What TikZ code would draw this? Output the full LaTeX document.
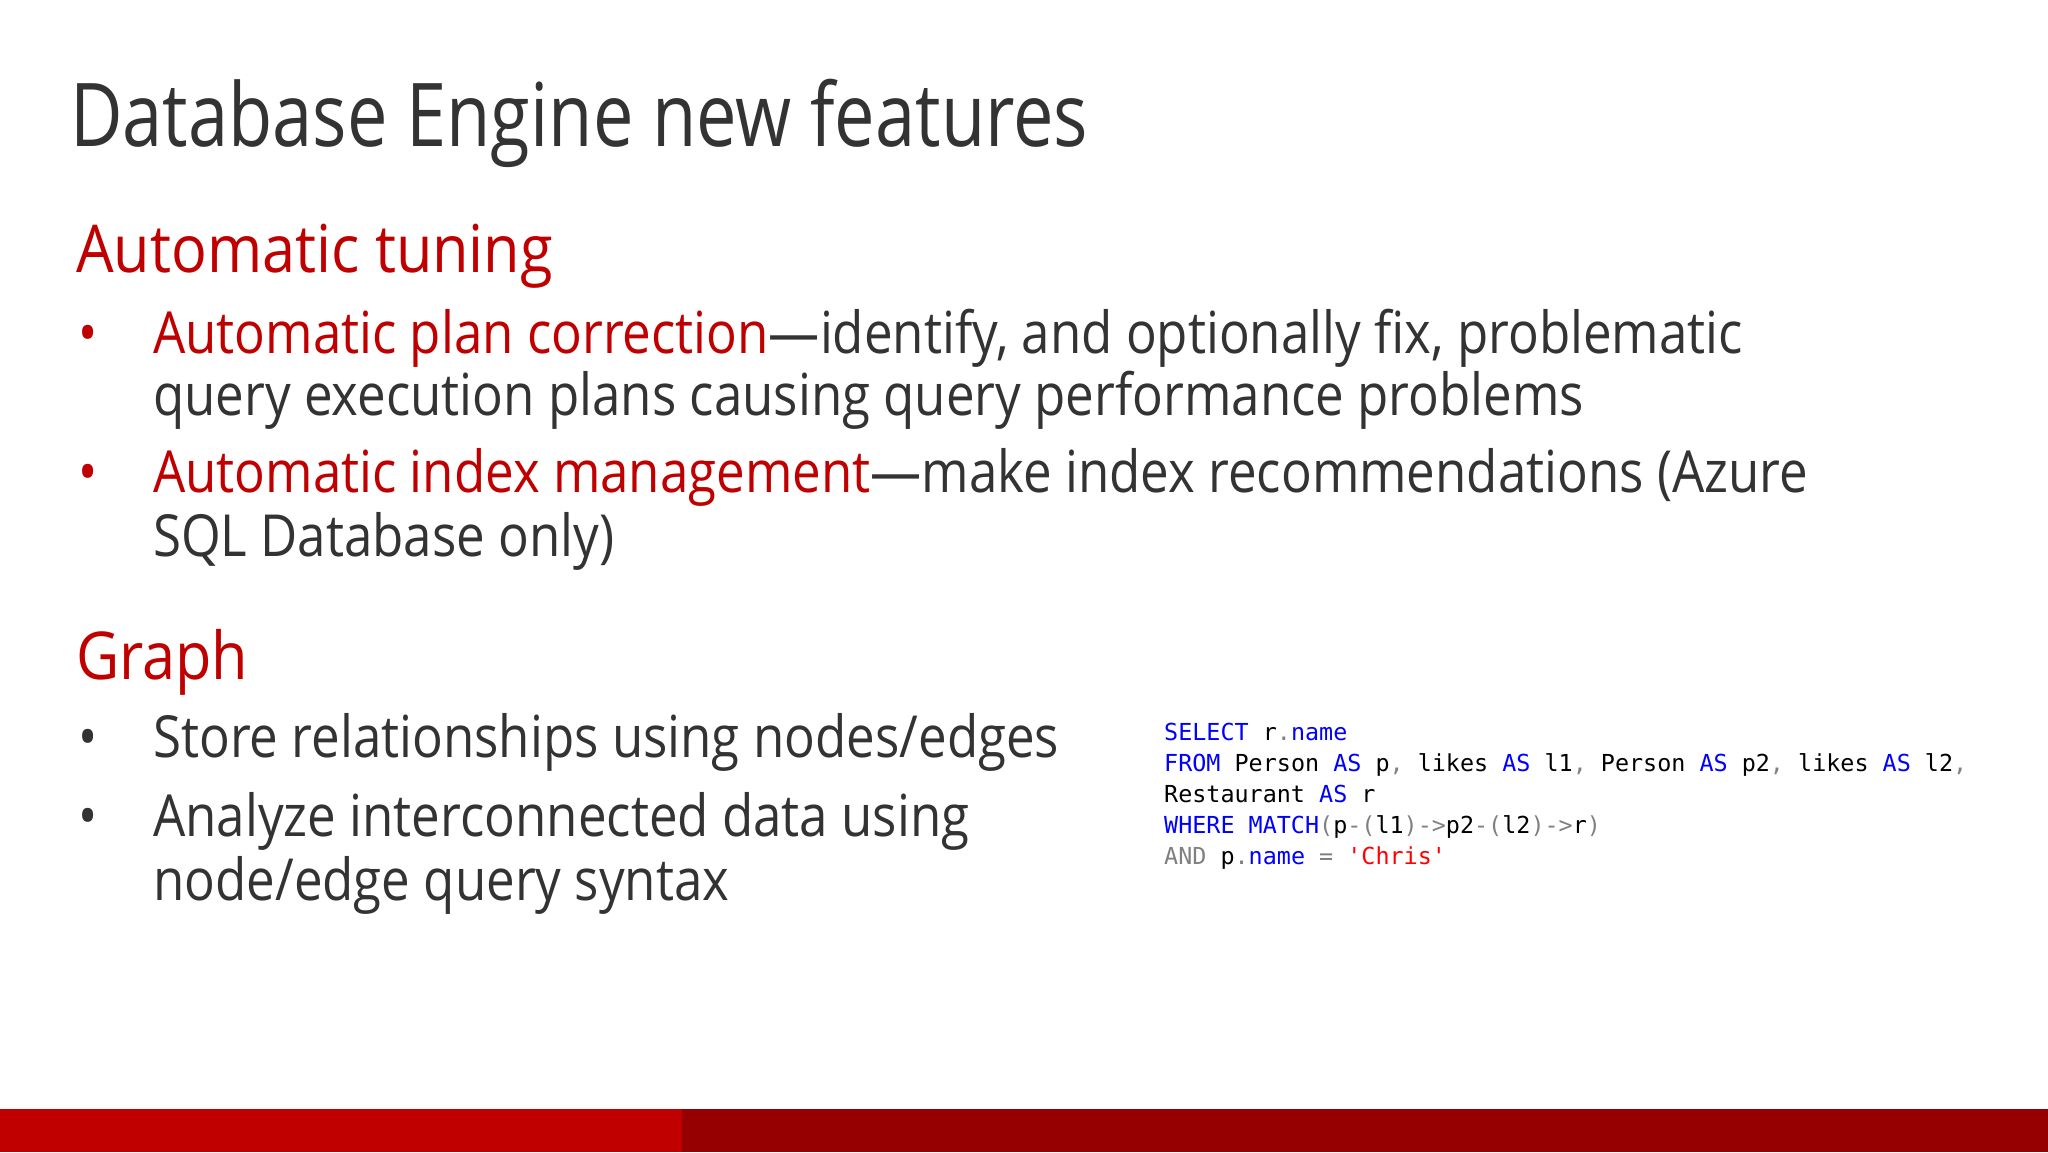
\documentclass[tikz,border=0pt]{standalone}
\usepackage{fontspec}
\setmainfont{Open Sans}[FakeStretch=0.88]
\newfontfamily\titlefont{Open Sans}[FakeStretch=0.82]
\newfontfamily\headfont{Open Sans}[FakeStretch=0.9]
\setmonofont{DejaVu Sans Mono}
\begin{document}
\begin{tikzpicture}[x=1pt,y=-1pt,
  txt/.style={anchor=base west,inner sep=0pt,text=tgray},
  body/.style={txt,font=\fontsize{58}{58}\selectfont},
  head/.style={txt,text=sred,font=\headfont\fontsize{66}{66}\selectfont},
  code/.style={txt,text=black,font=\fontsize{23.4}{23.4}\ttfamily}]
\definecolor{tgray}{HTML}{333333}
\definecolor{sred}{HTML}{C00000}
\definecolor{kblue}{HTML}{0000FF}
\definecolor{pgray}{HTML}{808080}
\definecolor{sqred}{HTML}{FF0000}
\definecolor{barA}{HTML}{C00000}
\definecolor{barB}{HTML}{960000}
\useasboundingbox (0,0) rectangle (2048,1152);
\fill[white] (0,0) rectangle (2048,1152);
\fill[barA] (0,1109) rectangle (682,1152);
\fill[barB] (682,1109) rectangle (2048,1152);
\node[txt,font=\titlefont\fontsize{88}{88}\selectfont] (title) at (70,146) {Database Engine new features};
\node[head] (h1) at (76,272) {Automatic tuning};
\node[body,text=sred] (b1) at (78,353) {•};
\node[body] (l1) at (153,353) {\textcolor{sred}{Automatic plan correction}—identify, and optionally fix, problematic};
\node[body] (l2) at (153,415) {query execution plans causing query performance problems};
\node[body,text=sred] (b2) at (78,492) {•};
\node[body] (l3) at (153,492) {\textcolor{sred}{Automatic index management}—make index recommendations (Azure};
\node[body] (l4) at (153,556) {SQL Database only)};
\node[head] (h2) at (76,679) {Graph};
\node[body] (b3) at (78,757) {•};
\node[body] (l5) at (153,757) {Store relationships using nodes/edges};
\node[body] (b4) at (78,836) {•};
\node[body] (l6) at (153,836) {Analyze interconnected data using};
\node[body] (l7) at (153,900) {node/edge query syntax};
\node[code] (c1) at (1164,740) {\textcolor{kblue}{SELECT} r\textcolor{pgray}{.}\textcolor{kblue}{name}};
\node[code] (c2) at (1164,771) {\textcolor{kblue}{FROM} Person \textcolor{kblue}{AS} p\textcolor{pgray}{,} likes \textcolor{kblue}{AS} l1\textcolor{pgray}{,} Person \textcolor{kblue}{AS} p2\textcolor{pgray}{,} likes \textcolor{kblue}{AS} l2\textcolor{pgray}{,}};
\node[code] (c3) at (1164,802) {Restaurant \textcolor{kblue}{AS} r};
\node[code] (c4) at (1164,833) {\textcolor{kblue}{WHERE MATCH}\textcolor{pgray}{(}p\textcolor{pgray}{-(}l1\textcolor{pgray}{)->}p2\textcolor{pgray}{-(}l2\textcolor{pgray}{)->}r\textcolor{pgray}{)}};
\node[code] (c5) at (1164,864) {\textcolor{pgray}{AND} p\textcolor{pgray}{.}\textcolor{kblue}{name} \textcolor{pgray}{=} \textcolor{sqred}{'Chris'}};
\end{tikzpicture}
\end{document}
